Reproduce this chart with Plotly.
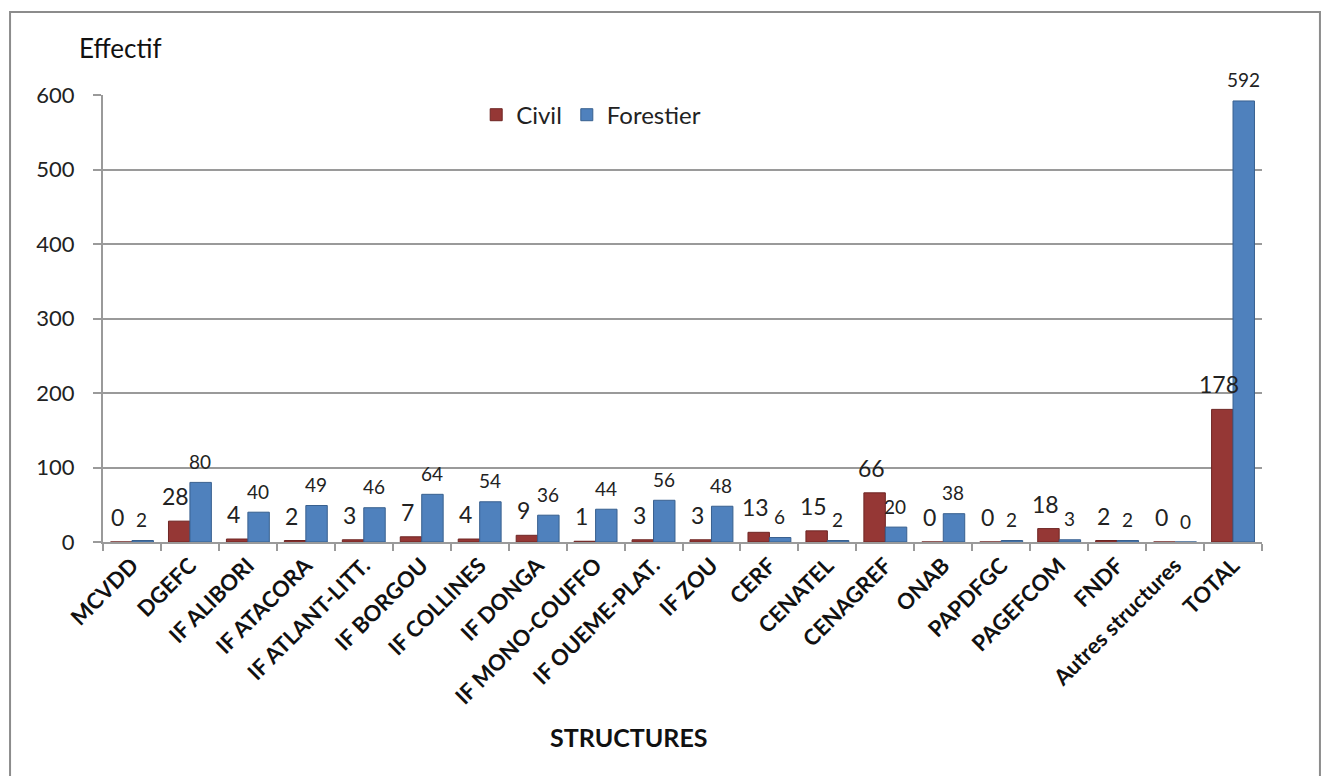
import plotly.graph_objects as go

categories = ["MCVDD", "DGEFC", "IF ALIBORI", "IF ATACORA", "IF ATLANT-LITT.", "IF BORGOU",
              "IF COLLINES", "IF DONGA", "IF MONO-COUFFO", "IF OUEME-PLAT.", "IF ZOU", "CERF",
              "CENATEL", "CENAGREF", "ONAB", "PAPDFGC", "PAGEFCOM", "FNDF", "Autres structures", "TOTAL"]
civil = [0, 28, 4, 2, 3, 7, 4, 9, 1, 3, 3, 13, 15, 66, 0, 0, 18, 2, 0, 178]
forestier = [2, 80, 40, 49, 46, 64, 54, 36, 44, 56, 48, 6, 2, 20, 38, 2, 3, 2, 0, 592]
y_ticks = [0, 100, 200, 300, 400, 500, 600]

FONT = "Lato"
RED = "#953735"
BLUE = "#4F81BD"
GRID = "#9a9a9a"

fig = go.Figure()
fig.add_trace(go.Bar(
    name="Civil", x=categories, y=civil, marker=dict(color=RED, line=dict(color="#6e2523", width=1)),
))
fig.add_trace(go.Bar(
    name="Forestier", x=categories, y=forestier, marker=dict(color=BLUE, line=dict(color="#38608f", width=1)),
))

# data labels placed over each bar of the group (offset by half a bar width)
label_annotations = []
for cat, v in zip(categories, civil):
    label_annotations.append(dict(
        x=cat, y=v, xref="x", yref="y", text=str(v), showarrow=False,
        xanchor="center", yanchor="middle", xshift=-14, yshift=25,
        font=dict(family=FONT, size=23, color="#222222")))
for cat, v in zip(categories, forestier):
    label_annotations.append(dict(
        x=cat, y=v, xref="x", yref="y", text=str(v), showarrow=False,
        xanchor="center", yanchor="middle", xshift=10, yshift=21,
        font=dict(family=FONT, size=19, color="#222222")))

fig.update_layout(
    width=1327, height=776,
    margin=dict(l=103, r=65, t=95, b=234),
    paper_bgcolor="white", plot_bgcolor="white",
    barmode="group", bargap=0.26, bargroupgap=0,
    font=dict(family=FONT, color="#111111"),
    showlegend=True,
    legend=dict(orientation="h", x=0.322, y=0.955, xanchor="left", yanchor="middle",
                font=dict(family=FONT, size=24, color="#222222"), bgcolor="rgba(0,0,0,0)",
                itemwidth=30, traceorder="normal"),
    xaxis=dict(
        type="category", tickangle=-45, showgrid=False,
        showline=True, linecolor=GRID, linewidth=2,
        ticks="outside", tickson="boundaries", ticklen=7, tickwidth=2, tickcolor=GRID,
        tickfont=dict(family=FONT, size=22, color="#111111", weight="bold"),
    ),
    yaxis=dict(
        range=[0, 600], tickvals=y_ticks, showgrid=True, gridcolor=GRID, gridwidth=2,
        showline=True, linecolor=GRID, linewidth=2,
        ticks="outside", ticklen=8, tickwidth=2, tickcolor=GRID, ticklabelstandoff=14,
        tickfont=dict(family=FONT, size=22, color="#222222"),
        zeroline=False,
    ),
    annotations=label_annotations + [
        dict(text="Effectif", xref="paper", yref="paper", x=-0.0224, y=1.105,
             xanchor="left", yanchor="middle", showarrow=False,
             font=dict(family=FONT, size=26, color="#111111")),
        dict(text="<b>STRUCTURES</b>", xref="paper", yref="paper", x=0.453, y=-0.436,
             xanchor="center", yanchor="middle", showarrow=False,
             font=dict(family=FONT, size=25, color="#111111")),
    ],
    shapes=[
        dict(type="rect", xref="paper", yref="paper", x0=-0.0802, x1=1.050, y0=-0.55, y1=1.1857,
             line=dict(color="#8c8c8c", width=2), fillcolor="rgba(0,0,0,0)", layer="below"),
    ],
)

fig.write_html("out.html")
